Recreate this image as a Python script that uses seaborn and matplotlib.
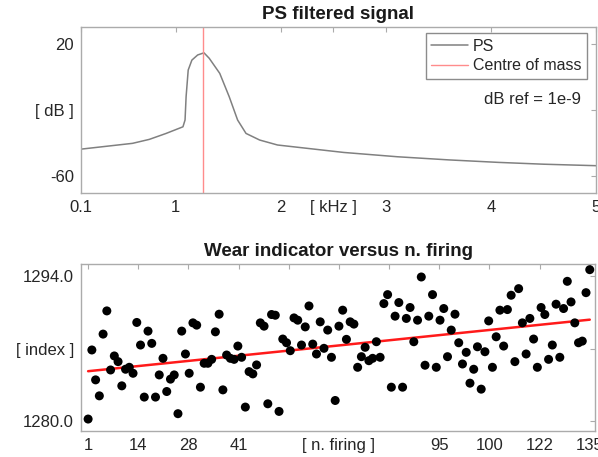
import numpy as np
import pandas as pd
import matplotlib
matplotlib.use("Agg")
import matplotlib.pyplot as plt
import seaborn as sns

# power spectrum
freq_khz = [0.1, 0.59, 0.75, 0.91, 1.07, 1.09, 1.10, 1.12, 1.155, 1.21, 1.27,
            1.32, 1.42, 1.51, 1.59, 1.67, 1.80, 1.97, 2.18, 2.6, 3.11, 3.6, 4.07, 4.5, 5.0]
ps_db = [-43.5, -40.0, -37.6, -34.0, -30.0, -25.9, -11.8, 4.3, 10.3, 13.4, 14.7,
         11.4, 2.3, -11.8, -25.9, -34.0, -38.0, -41.0, -42.5, -45.5, -48.1, -50.0, -51.5, -52.6, -53.5]
centre_of_mass = 1.26

top_xticks = [0.1, 1, 2, 2.5, 3, 4, 5]
top_xlabels = ["0.1", "1", "2", "[ kHz ]", "3", "4", "5"]
top_yticks = [-60, -20, 20]
top_ylabels = ["-60", "[ dB ]", "20"]

# wear indicator, one value per firing
firing = list(range(1, 136))
wear = [1280.16, 1286.86, 1283.96, 1282.41, 1288.40, 1290.65, 1284.92, 1286.28, 1285.73, 1283.38,
        1284.99, 1285.18, 1284.60, 1289.53, 1287.34, 1282.29, 1288.69, 1287.50, 1282.29, 1284.44,
        1286.05, 1282.83, 1284.03, 1284.44, 1280.68, 1288.69, 1286.47, 1284.60, 1289.49, 1289.27,
        1283.25, 1285.57, 1285.57, 1285.95, 1288.62, 1290.33, 1282.99, 1286.37, 1286.05, 1285.95,
        1287.24, 1286.15, 1281.32, 1284.76, 1284.54, 1285.41, 1289.49, 1289.17, 1281.64, 1290.30,
        1290.23, 1280.90, 1287.92, 1287.56, 1286.79, 1289.97, 1289.75, 1287.34, 1289.10, 1291.13,
        1287.43, 1286.47, 1289.59, 1287.02, 1288.79, 1286.15, 1281.96, 1289.17, 1290.72, 1287.89,
        1289.59, 1289.37, 1285.18, 1286.21, 1287.12, 1285.82, 1286.05, 1287.66, 1286.15, 1291.36,
        1292.23, 1283.25, 1290.14, 1291.46, 1283.25, 1289.92, 1290.98, 1287.66, 1289.75, 1293.94,
        1285.38, 1290.14, 1292.23, 1285.18, 1289.75, 1290.88, 1286.21, 1288.79, 1290.33, 1287.56,
        1285.50, 1286.63, 1283.64, 1284.99, 1287.17, 1283.06, 1286.69, 1289.68, 1285.18, 1288.14,
        1290.72, 1287.24, 1290.78, 1292.17, 1285.73, 1292.81, 1289.49, 1286.47, 1289.92, 1287.92,
        1285.18, 1290.98, 1290.30, 1285.95, 1287.34, 1291.30, 1286.15, 1290.88, 1293.52, 1291.52,
        1289.49, 1287.56, 1287.72, 1292.42, 1294.65]
fit_x = [1, 135]
fit_y = [1284.8, 1289.8]

bot_xticks = [1, 14.4, 27.8, 41.2, 54.6, 68, 81.4, 94.8, 108.2, 121.6, 135]
bot_xlabels = ["1", "14", "28", "41", "", "[ n. firing ]", "", "95", "100", "122", "135"]
bot_yticks = [1280, 1287, 1294]
bot_ylabels = ["1280.0", "[ index ]", "1294.0"]

sns.set_style("white")
plt.rcParams["font.family"] = ["Liberation Sans", "DejaVu Sans"]

frame_col = "#ababab"
text_col = "#262626"

fig = plt.figure(figsize=(5.98, 4.57), dpi=100)
ax1 = fig.add_axes([81 / 598, 1 - 193 / 457, 515 / 598, 166 / 457])
ax2 = fig.add_axes([81 / 598, 1 - 431 / 457, 514 / 598, 167 / 457])

spec = pd.DataFrame({"f": freq_khz, "db": ps_db})
sns.lineplot(data=spec, x="f", y="db", ax=ax1, color="#808080", linewidth=1.1, label="PS")
ax1.axvline(centre_of_mass, color="#ff8c8c", linewidth=1.0, label="Centre of mass")
ax1.set_xlim(0.1, 5.0)
ax1.set_ylim(-70, 30.3)
ax1.set_xticks(top_xticks)
ax1.set_xticklabels(top_xlabels)
ax1.set_yticks(top_yticks)
ax1.set_yticklabels(top_ylabels)
ax1.set_title("PS filtered signal", fontsize=13.5, fontweight="bold", color="#1a1a1a", pad=6)
leg = ax1.legend(loc="upper right", bbox_to_anchor=(0.9825, 0.964), borderaxespad=0,
                 fancybox=False, framealpha=1, edgecolor="#8c8c8c", fontsize=11.5,
                 handlelength=2.3, handletextpad=0.3, labelspacing=0.3, borderpad=0.35)
for t in leg.get_texts():
    t.set_color(text_col)
ax1.text(0.97, 0.566, "dB ref = 1e-9", transform=ax1.transAxes, ha="right", va="center",
         fontsize=12, color=text_col)

wdf = pd.DataFrame({"n": firing, "w": wear})
sns.scatterplot(data=wdf, x="n", y="w", ax=ax2, color="black", s=42, edgecolor="none", zorder=3)
sns.lineplot(x=fit_x, y=fit_y, ax=ax2, color="#ff1a1a", linewidth=1.8, zorder=2)
ax2.set_xlim(-0.9, 136.4)
ax2.set_ylim(1279.0, 1295.2)
ax2.set_xticks(bot_xticks)
ax2.set_xticklabels(bot_xlabels)
ax2.set_yticks(bot_yticks)
ax2.set_yticklabels(bot_ylabels)
ax2.set_title("Wear indicator versus n. firing", fontsize=13.5, fontweight="bold", color="#1a1a1a", pad=6)

for ax in (ax1, ax2):
    ax.set_xlabel("")
    ax.set_ylabel("")
    for s in ax.spines.values():
        s.set_visible(True)
        s.set_color(frame_col)
        s.set_linewidth(1.0)
    ax.tick_params(direction="in", length=3.5, width=0.8, color=frame_col,
                   top=True, right=True, labelsize=12, labelcolor=text_col, pad=5)

fig.savefig("out.png", dpi=100)
